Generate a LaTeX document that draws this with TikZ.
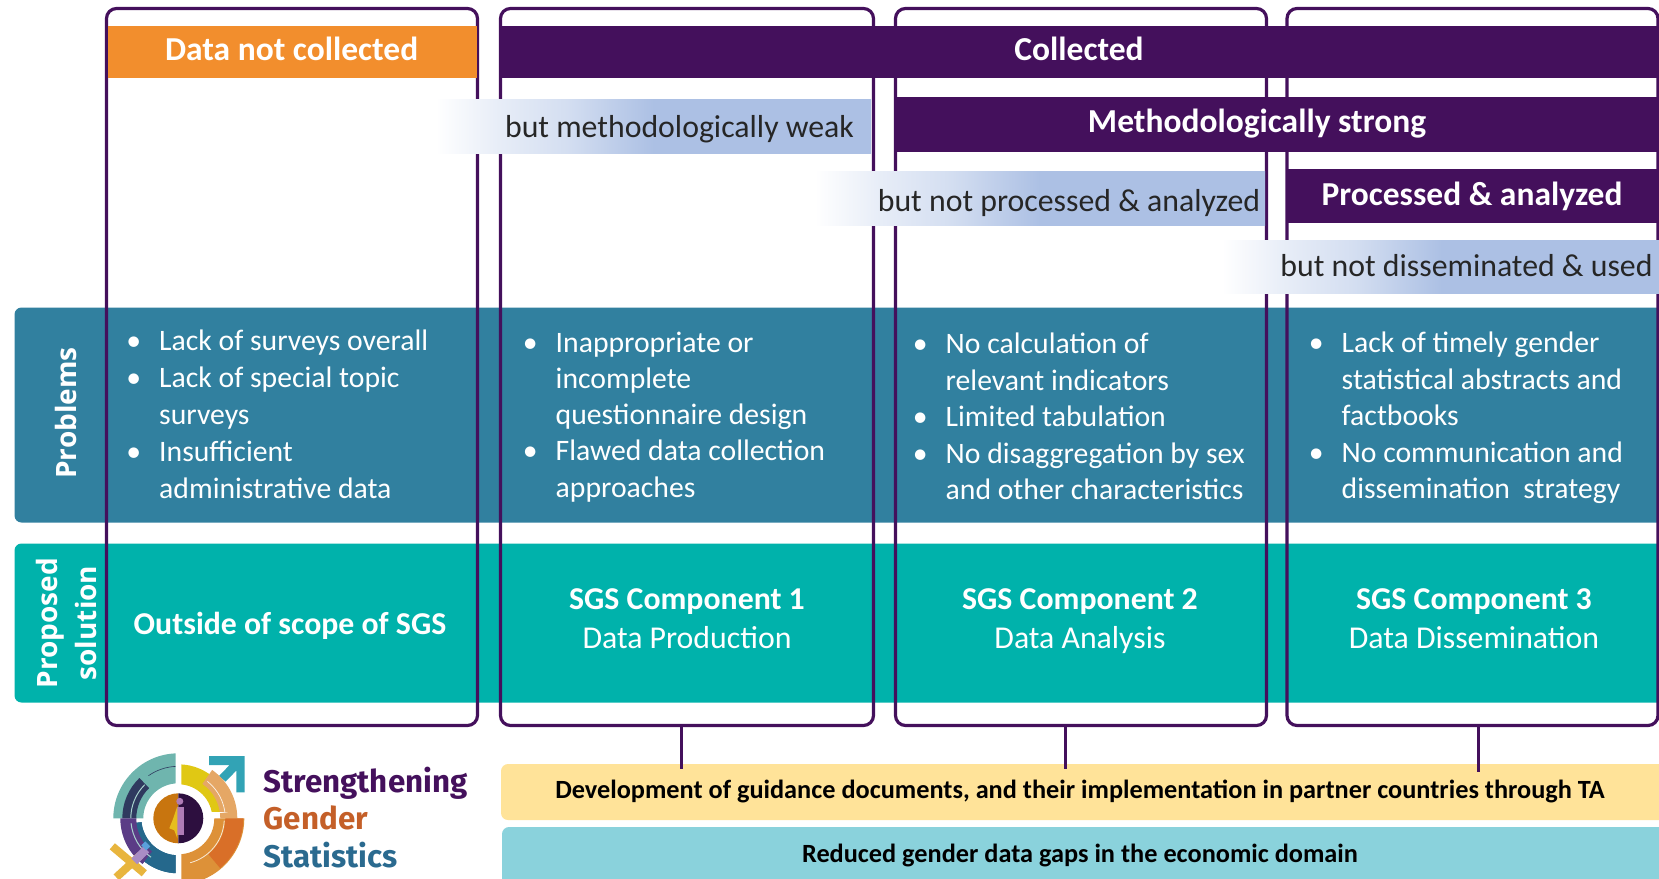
\documentclass[tikz,border=0pt]{standalone}
\usepackage{fontspec}
\setmainfont{Carlito}
\newfontfamily\widefont{Open Sans}
\newfontfamily\logofont{Fira Sans}
\definecolor{plum}{HTML}{44105C}
\definecolor{orangeb}{HTML}{F28E2D}
\definecolor{probc}{HTML}{31809F}
\definecolor{solc}{HTML}{00B2AB}
\definecolor{yelc}{HTML}{FFE399}
\definecolor{bluec}{HTML}{8AD2DC}
\definecolor{fadec}{HTML}{ACC0E4}
\pgfdeclarehorizontalshading{bandfade}{100bp}{color(0bp)=(white); color(25bp)=(white); color(32bp)=(fadec!28); color(40bp)=(fadec!52); color(50bp)=(fadec); color(100bp)=(fadec)}
\newcommand{\ringsec}[5]{\fill[#5] (#3:#2pt) arc[start angle=#3,end angle=#4,radius=#2pt] -- (#4:#1pt) arc[start angle=#4,end angle=#3,radius=#1pt] -- cycle;}
\tikzset{
  blockbox/.style={inner sep=0pt,outer sep=0pt,anchor=north west},
  colbox/.style={blockbox,draw=plum,line width=3.2pt,rounded corners=10pt},
  roundband/.style={blockbox,rounded corners=7pt},
  fadeband/.style={blockbox,shading=bandfade},
  headtxt/.style={inner sep=0pt,anchor=base,text=white,font=\fontsize{33.5}{38}\selectfont\bfseries},
  fadetxt/.style={inner sep=0pt,anchor=base,text=black!85,font=\fontsize{31.8}{38}\selectfont},
  listtxt/.style={inner sep=0pt,anchor=north west,align=left,text=white,font=\fontsize{29.7}{36.5}\selectfont},
  sideprob/.style={inner sep=0pt,rotate=90,text=white,font=\fontsize{28}{39}\selectfont\widefont\bfseries,align=center},
  compbold/.style={inner sep=0pt,anchor=base,text=white,font=\fontsize{31.8}{38}\selectfont\bfseries},
  compreg/.style={inner sep=0pt,anchor=base,text=white,font=\fontsize{31.8}{38}\selectfont},
  bartxt/.style={inner sep=0pt,anchor=base,text=black,font=\fontsize{26.3}{30}\selectfont\bfseries},
  conn/.style={draw=plum,line width=3pt},
  logotxt/.style={inner sep=0pt,anchor=base west,font=\fontsize{31.3}{36}\selectfont\logofont\bfseries}
}
\newcommand{\bl}{\leavevmode\llap{•\hskip 18pt}}
\begin{document}
\begin{tikzpicture}[x=1pt,y=-1pt]
\path[use as bounding box] (0,0) rectangle (1659,878);
\clip (0,0) rectangle (1659,878);
% horizontal rows
\node[roundband,fill=probc,minimum width=1680pt,minimum height=215pt] (prob) at (14.5,307.5) {};
\node[roundband,fill=solc,minimum width=1680pt,minimum height=159pt] (sol) at (14.5,543.5) {};
% column frames
\node[colbox,minimum width=371pt,minimum height=717pt] (bx1) at (106.5,8.5) {};
\node[colbox,minimum width=373pt,minimum height=717pt] (bx2) at (500.5,8.5) {};
\node[colbox,minimum width=371pt,minimum height=717pt] (bx3) at (895.5,8.5) {};
\node[colbox,minimum width=371pt,minimum height=717pt] (bx4) at (1287,8.5) {};
% header bands
\node[blockbox,fill=orangeb,minimum width=369pt,minimum height=52pt] (hnc) at (108,25.5) {};
\node[blockbox,fill=plum,minimum width=1170pt,minimum height=52pt] (hcol) at (499,25.5) {};
\node[blockbox,fill=plum,minimum width=775pt,minimum height=55pt] (hms) at (894,97) {};
\node[blockbox,fill=plum,minimum width=384pt,minimum height=54pt] (hpa) at (1287,169) {};
% fading bands
\node[fadeband,minimum width=435pt,minimum height=54pt] (fw) at (436,99) {};
\node[fadeband,minimum width=450pt,minimum height=54pt] (fp) at (815,171) {};
\node[fadeband,minimum width=440pt,minimum height=53pt] (fd) at (1222,240) {};
% header labels
\node[headtxt] (t1) at (291.6,60) {Data not collected};
\node[headtxt] (t2) at (1079,60) {Collected};
\node[headtxt] (t3) at (1257,132.5) {Methodologically strong};
\node[headtxt] (t4) at (1472,205) {Processed \& analyzed};
\node[fadetxt] (t5) at (679.5,137) {but methodologically weak};
\node[fadetxt] (t6) at (1069,211) {but not processed \& analyzed};
\node[fadetxt] (t7) at (1466.5,276) {but not disseminated \& used};
% side labels
\node[sideprob] (sp) at (66,413) {Problems};
\node[sideprob] (ss) at (66.5,623) {Proposed\\solution};
% problems lists
\node[listtxt] (l1) at (159,330) {\bl Lack of surveys overall\\\bl Lack of special topic\\[0.5pt]surveys\\[1pt]\bl Insufficient\\[0.5pt]administrative data};
\node[listtxt] (l2) at (555.5,332) {\bl Inappropriate or\\[-1pt]incomplete\\questionnaire design\\[-0.5pt]\bl Flawed data collection\\approaches};
\node[listtxt] (l3) at (945.5,333) {\bl No calculation of\\relevant indicators\\\bl Limited tabulation\\\bl No disaggregation by sex\\and other characteristics};
\node[listtxt] (l4) at (1341.5,332) {\bl Lack of timely gender\\statistical abstracts and\\factbooks\\\bl No communication and\\dissemination\ \ strategy};
% solutions
\node[compbold] (s0) at (290,634) {Outside of scope of SGS};
\node[compbold] (s1) at (687,609) {SGS Component 1};
\node[compreg] (s1b) at (687,648) {Data Production};
\node[compbold] (s2) at (1080,609) {SGS Component 2};
\node[compreg] (s2b) at (1080,648) {Data Analysis};
\node[compbold] (s3) at (1474,609) {SGS Component 3};
\node[compreg] (s3b) at (1474,648) {Data Dissemination};
% bottom bars
\node[roundband,fill=yelc,minimum width=1180pt,minimum height=56pt] (yb) at (501,764) {};
\node[roundband,fill=bluec,minimum width=1180pt,minimum height=70pt] (bb) at (502,827) {};
\node[bartxt] (yt) at (1080,798) {Development of guidance documents, and their implementation in partner countries through TA};
\node[bartxt] (bt) at (1080,862) {Reduced gender data gaps in the economic domain};
% connectors
\draw[conn] ([xshift=-6pt]bx2.south) -- ([xshift=-6pt,yshift=-5pt]bx2.south |- yb.north);
\draw[conn] ([xshift=-16pt]bx3.south) -- ([xshift=-16pt,yshift=-5pt]bx3.south |- yb.north);
\draw[conn] ([xshift=5.5pt]bx4.south) -- ([xshift=5.5pt,yshift=-8pt]bx4.south |- yb.north);
% logo wordmark
\node[logotxt,text=plum] (w1) at (263.5,792) {Strengthening};
\node[logotxt,text={rgb,255:red,196;green,95;blue,40}] (w2) at (263.5,829) {Gender};
\node[logotxt,text={rgb,255:red,42;green,106;blue,143}] (w3) at (263.5,867) {Statistics};
% logo emblem
\begin{scope}[shift={(178.3,818.3)},x=1pt,y=1pt]
  \definecolor{lteal}{HTML}{6FB5AE}
  \definecolor{lnavy}{HTML}{2F3A5F}
  \definecolor{lpurp}{HTML}{5B3C86}
  \definecolor{lblue}{HTML}{25688C}
  \definecolor{lyel}{HTML}{E0C814}
  \definecolor{lorl}{HTML}{E5A765}
  \definecolor{lor}{HTML}{DD9138}
  \definecolor{lord}{HTML}{D96F28}
  % arrow
  \fill[fill={rgb,255:red,50;green,163;blue,181}] (30.7,62.3) -- (66.3,62.3) -- (66.3,26) -- (58,26) -- (58,47.7) -- (47.3,36.7) -- (40.7,42.3) -- (51.3,53.3) -- (30.7,53.3) -- cycle;
  % left half
  \begin{scope}
    \clip (-70,-70) rectangle (-2.7,70);
    \ringsec{35}{65}{90}{180}{lteal}
    \ringsec{42}{56}{180}{134}{lnavy}
    \ringsec{47}{48}{135}{180}{lteal!60!white}
    \draw[lnavy,line width=.6pt] (125:52) arc[start angle=125,end angle=92,radius=52pt];
    \ringsec{37}{55}{186}{270}{lblue}
    \ringsec{42}{58}{180}{232}{lpurp}
    \ringsec{37}{42}{186}{270}{lblue}
    \ringsec{42}{55}{232}{270}{lblue}
    \ringsec{47}{48}{186}{235}{lteal!60!white}
  \end{scope}
  % right half
  \begin{scope}
    \clip (3,-70) rectangle (70,70);
    \begin{scope}
      \clip (0,6.7) rectangle (70,70);
      \ringsec{34}{54}{0}{90}{lyel}
      \ringsec{42}{59}{0}{55}{lorl}
      \draw[white!85!lorl,line width=.7pt] (3:47) arc[start angle=3,end angle=52,radius=47pt];
    \end{scope}
    \ringsec{42}{59}{0}{7}{lorl}
    \ringsec{36}{66}{-90}{0}{lor}
    \ringsec{47}{65}{-50}{0}{lord}
    \draw[white!80!lor,line width=.8pt] (-3:46) arc[start angle=-3,end angle=-75,radius=46pt];
  \end{scope}
  % centre disc
  \fill[fill={rgb,255:red,200;green,117;blue,15}] (0,25) arc[start angle=90,end angle=270,radius=25pt] -- cycle;
  \fill[fill={rgb,255:red,45;green,15;blue,63}] (0,25) arc[start angle=90,end angle=-90,radius=25pt] -- cycle;
  \fill[fill={rgb,255:red,176;green,124;blue,182}] (1.5,17) circle[radius=3.5pt];
  \fill[fill={rgb,255:red,176;green,124;blue,182}] (-1,11) rectangle (6,-17);
  \fill[fill={rgb,255:red,230;green,190;blue,30}] (-1,12) -- (-5,0) -- (-9,-10) -- (-4,-12) -- (-1,-20) -- cycle;
  % female cross
  \draw[line width=8pt,draw={rgb,255:red,232;green,181;blue,62}] (-66,-28) -- (-34,-55);
  \draw[line width=8pt,draw={rgb,255:red,232;green,181;blue,62}] (-62,-59) -- (-38,-37);
  \draw[line width=8pt,draw={rgb,255:red,169;green,140;blue,197}] (-44,-43) -- (-32,-31);
  \fill[fill={rgb,255:red,90;green,160;blue,220}] (-33,-23) -- (-28,-28) -- (-32,-32) -- (-37,-27) -- cycle;
\end{scope}
\end{tikzpicture}
\end{document}
